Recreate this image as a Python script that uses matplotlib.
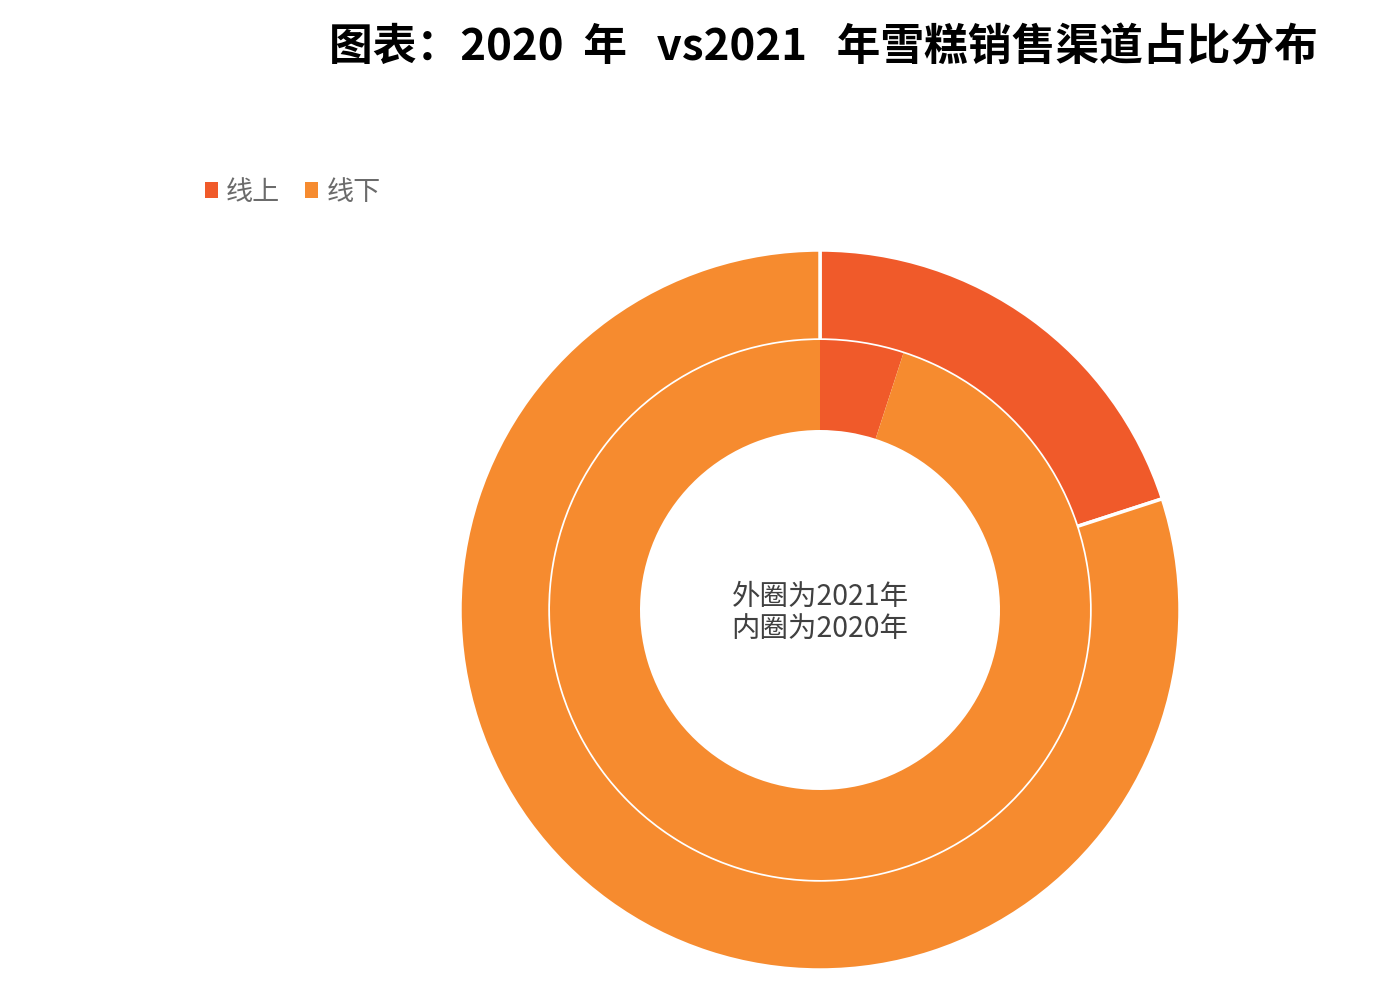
import matplotlib
matplotlib.use("Agg")
import matplotlib.pyplot as plt

plt.rcParams['font.family'] = ['Noto Sans CJK SC', 'DejaVu Sans']

channels = ["线上", "线下"]
share_2021 = [20, 80]   # outer ring
share_2020 = [5, 95]    # inner ring
colors = ["#F05A2A", "#F68B2F"]

title = "图表：2020  年   vs2021   年雪糕销售渠道占比分布"
center_note = "外圈为2021年\n内圈为2020年"

W, H = 1373, 1007
fig = plt.figure(figsize=(W / 100, H / 100), dpi=100)
ax = fig.add_axes([0, 0, 1, 1])

cx, cy = 820, H - 610
r_out, ring = 360, 90

outer, _ = ax.pie(share_2021, colors=colors, radius=r_out, center=(cx, cy),
                  startangle=90, counterclock=False, labels=None,
                  wedgeprops=dict(width=ring, edgecolor="white", linewidth=2.5))
inner, _ = ax.pie(share_2020, colors=colors, radius=r_out - ring, center=(cx, cy),
                  startangle=90, counterclock=False,
                  wedgeprops=dict(width=ring, edgecolor="none", linewidth=0))
ax.set_xlim(0, W)
ax.set_ylim(0, H)
ax.set_aspect("equal")
ax.axis("off")

ax.text(cx, cy - 3, center_note, ha="center", va="center", fontsize=20.5,
        color="#404040", linespacing=1.1)

fig.text(1318 / W, 1 - 47 / H, title, ha="right", va="center",
         fontsize=31.5, fontweight="bold", color="black")

leg = fig.legend(outer, channels, loc="center left",
                 bbox_to_anchor=(191 / W, 1 - 192 / H), ncol=2, frameon=False,
                 fontsize=19.5, handlelength=0.5, handleheight=0.5,
                 handletextpad=0.3, columnspacing=0.9, borderpad=0)
for t in leg.get_texts():
    t.set_color("#6b6b6b")
for h in leg.legend_handles:
    h.set_edgecolor("none")

fig.savefig("out.png", dpi=100, facecolor="white")
